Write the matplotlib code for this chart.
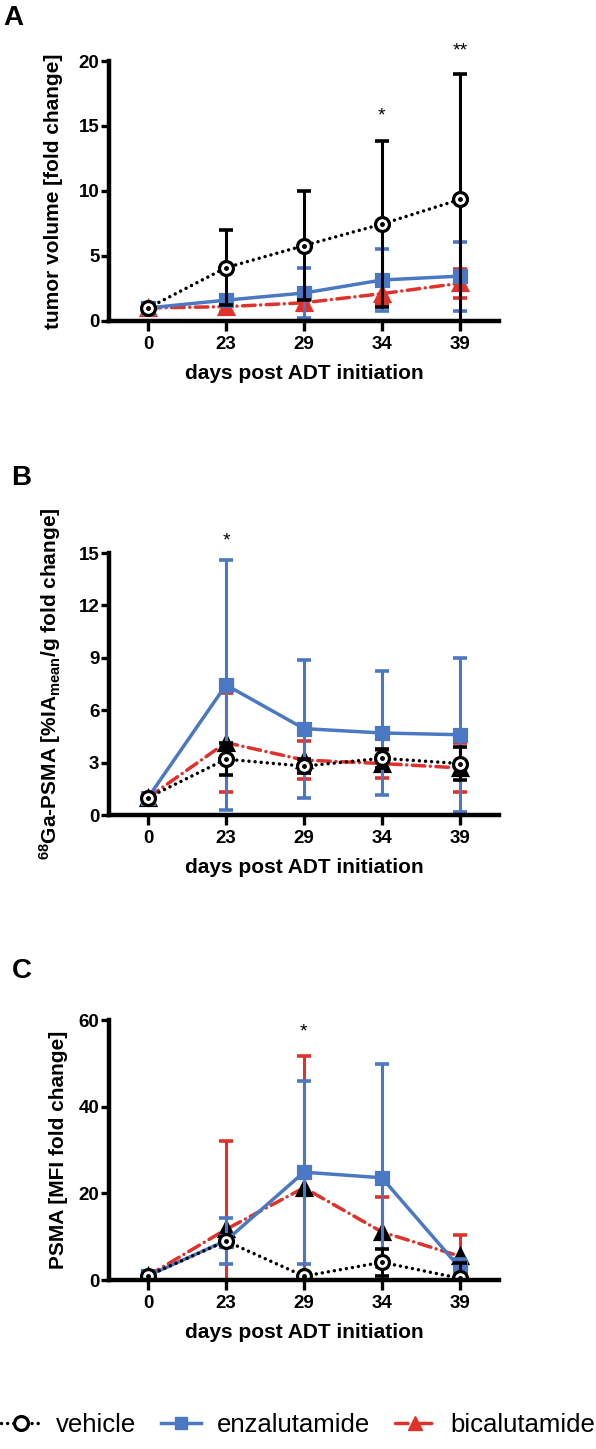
import matplotlib
matplotlib.use("Agg")
import matplotlib.pyplot as plt
from matplotlib.lines import Line2D

plt.rcParams['font.family'] = ['Liberation Sans', 'DejaVu Sans']
plt.rcParams['mathtext.fontset'] = 'custom'
plt.rcParams['mathtext.rm'] = 'Liberation Sans:bold'
plt.rcParams['mathtext.bf'] = 'Liberation Sans:bold'
plt.rcParams['mathtext.default'] = 'bf'

BLUE = '#4a78c2'
RED = '#e0312b'

days = ['0', '23', '29', '34', '39']

# A: tumor volume (mean, SD)
veh_vol = [1.0, 4.1, 5.8, 7.45, 9.35]
veh_vol_sd = [0.05, 2.9, 4.2, 6.4, 9.65]
enz_vol = [1.0, 1.6, 2.15, 3.15, 3.45]
enz_vol_sd = [0.1, 0.4, 1.9, 2.35, 2.65]
bic_vol = [1.0, 1.1, 1.4, 2.1, 2.9]
bic_vol_sd = [0.1, 0.4, 0.5, 0.8, 1.1]

# B: 68Ga-PSMA uptake
veh_pet = [1.0, 3.2, 2.8, 3.25, 2.95]
veh_pet_sd = [0.05, 0.9, 0.4, 0.55, 0.95]
enz_pet = [1.0, 7.45, 4.95, 4.7, 4.6]
enz_pet_sd = [0.05, 7.15, 3.95, 3.55, 4.4]
bic_pet = [1.0, 4.15, 3.15, 2.95, 2.7]
bic_pet_sd = [0.05, 2.85, 1.1, 0.8, 1.4]

# C: PSMA MFI
veh_mfi = [1.0, 9.0, 0.9, 4.1, 0.4]
veh_mfi_sd = [0.1, 1.0, 0.3, 3.1, 3.6]
enz_mfi = [1.0, 9.1, 24.9, 23.6, 2.8]
enz_mfi_sd = [0.1, 5.3, 21.1, 26.3, 2.1]
bic_mfi = [1.0, 11.7, 21.3, 11.1, 5.5]
bic_mfi_sd = [0.1, 20.3, 30.3, 8.0, 4.9]

# significance marks: (x index, y, text)
stars_a = [(3, 16.2, '*'), (4, 21.2, '**')]
stars_b = [(1, 16.0, '*')]
stars_c = [(2, 58.6, '*')]

VEH_LS = (0, (0.01, 1.75))
BIC_LS = (0, (3.6, 1.6, 0.01, 1.6))

fig = plt.figure(figsize=(5.96, 14.49), dpi=100)
x = list(range(len(days)))


def draw_series(ax, y, sd, color, ls, marker, mfc, z, ms=9, mec=None):
    ax.errorbar(x, y, yerr=sd, fmt='none', ecolor=color, elinewidth=2.2,
                capsize=5, capthick=2.6, zorder=z)
    if mec is None:
        mec = color if mfc != 'white' else 'black'
    ax.plot(x, y, color=color, ls=ls, lw=2.5, marker=marker, ms=ms,
            mfc=mfc, mec=mec, mew=2.3, zorder=z + 0.5,
            dash_capstyle='round')


def style(ax, ymax, yticks, ylabel, lab_x):
    ax.set_xlim(-0.5, 4.5)
    ax.set_ylim(0, ymax)
    ax.set_yticks(yticks)
    ax.set_xticks(x, days)
    for s in ['top', 'right']:
        ax.spines[s].set_visible(False)
    for s in ['left', 'bottom']:
        ax.spines[s].set_linewidth(3.2)
        ax.spines[s].set_capstyle('projecting')
        ax.spines[s].set_zorder(6)
    ax.tick_params(axis='y', width=2.4, length=6, labelsize=13.5, pad=1)
    ax.tick_params(axis='x', width=2.4, length=7, labelsize=13.5, pad=4)
    for lab in ax.get_xticklabels() + ax.get_yticklabels():
        lab.set_fontweight('bold')
    ax.set_xlabel('days post ADT initiation', fontsize=15,
                  fontweight='bold', labelpad=8)
    ax.set_ylabel(ylabel, fontsize=15, fontweight='bold')
    ax.yaxis.set_label_coords(lab_x, 0.5)


def stars(ax, marks):
    for xi, yv, s in marks:
        ax.annotate(s, xy=(xi, yv), xytext=(0, -4), textcoords='offset points',
                    ha='center', va='center', fontsize=14, annotation_clip=False)


axA = fig.add_axes([0.183, 0.7785, 0.654, 0.1794])
draw_series(axA, bic_vol, bic_vol_sd, RED, BIC_LS, '^', RED, 2, ms=10)
draw_series(axA, enz_vol, enz_vol_sd, BLUE, '-', 's', BLUE, 3, ms=8)
draw_series(axA, veh_vol, veh_vol_sd, 'black', VEH_LS, 'o', 'white', 4, ms=10)
axA.plot(x, veh_vol, ls='none', marker='o', ms=2.5, color='black', zorder=5)
style(axA, 20, [0, 5, 10, 15, 20], 'tumor volume [fold change]', -0.118)
stars(axA, stars_a)

axB = fig.add_axes([0.183, 0.4375, 0.654, 0.1808])
draw_series(axB, bic_pet, bic_pet_sd, RED, BIC_LS, '^', 'black', 2, ms=10, mec='black')
draw_series(axB, enz_pet, enz_pet_sd, BLUE, '-', 's', BLUE, 3, ms=8)
draw_series(axB, veh_pet, veh_pet_sd, 'black', VEH_LS, 'o', 'white', 4, ms=10)
axB.plot(x, veh_pet, ls='none', marker='o', ms=2.5, color='black', zorder=5)
style(axB, 15, [0, 3, 6, 9, 12, 15],
      r'$^{68}$Ga-PSMA [%IA$_{mean}$/g fold change]', -0.118)
stars(axB, stars_b)

axC = fig.add_axes([0.183, 0.1166, 0.654, 0.1794])
draw_series(axC, bic_mfi, bic_mfi_sd, RED, BIC_LS, '^', 'black', 2, ms=10, mec='black')
draw_series(axC, enz_mfi, enz_mfi_sd, BLUE, '-', 's', BLUE, 3, ms=8)
draw_series(axC, veh_mfi, veh_mfi_sd, 'black', VEH_LS, 'o', 'white', 4, ms=10)
axC.plot(x, veh_mfi, ls='none', marker='o', ms=2.5, color='black', zorder=5)
style(axC, 60, [0, 20, 40, 60], 'PSMA [MFI fold change]', -0.105)
stars(axC, stars_c)

for lab, ypos, xpos in [('A', 5, 3), ('B', 465, 11), ('C', 958, 12)]:
    fig.text(xpos / 596, 1 - ypos / 1449, lab, fontsize=20, fontweight='bold',
             ha='left', va='top')

handles = [
    Line2D([], [], color='black', ls=VEH_LS, lw=2.5, marker='o', ms=10,
           mfc='white', mec='black', mew=2.3, dash_capstyle='round'),
    Line2D([], [], color=BLUE, ls='-', lw=2.5, marker='s', ms=8, mfc=BLUE, mec=BLUE),
    Line2D([], [], color=RED, ls=BIC_LS, lw=2.5, marker='^', ms=10, mfc=RED, mec=RED,
           dash_capstyle='round'),
]
fig.legend(handles, ['vehicle', 'enzalutamide', 'bicalutamide'], loc='center',
           bbox_to_anchor=(0.5, 0.0166), ncol=3, frameon=False, fontsize=18.5,
           handlelength=1.55, handletextpad=0.6, columnspacing=0.97,
           borderpad=0, borderaxespad=0, numpoints=1)

fig.savefig('out.png', dpi=100)
